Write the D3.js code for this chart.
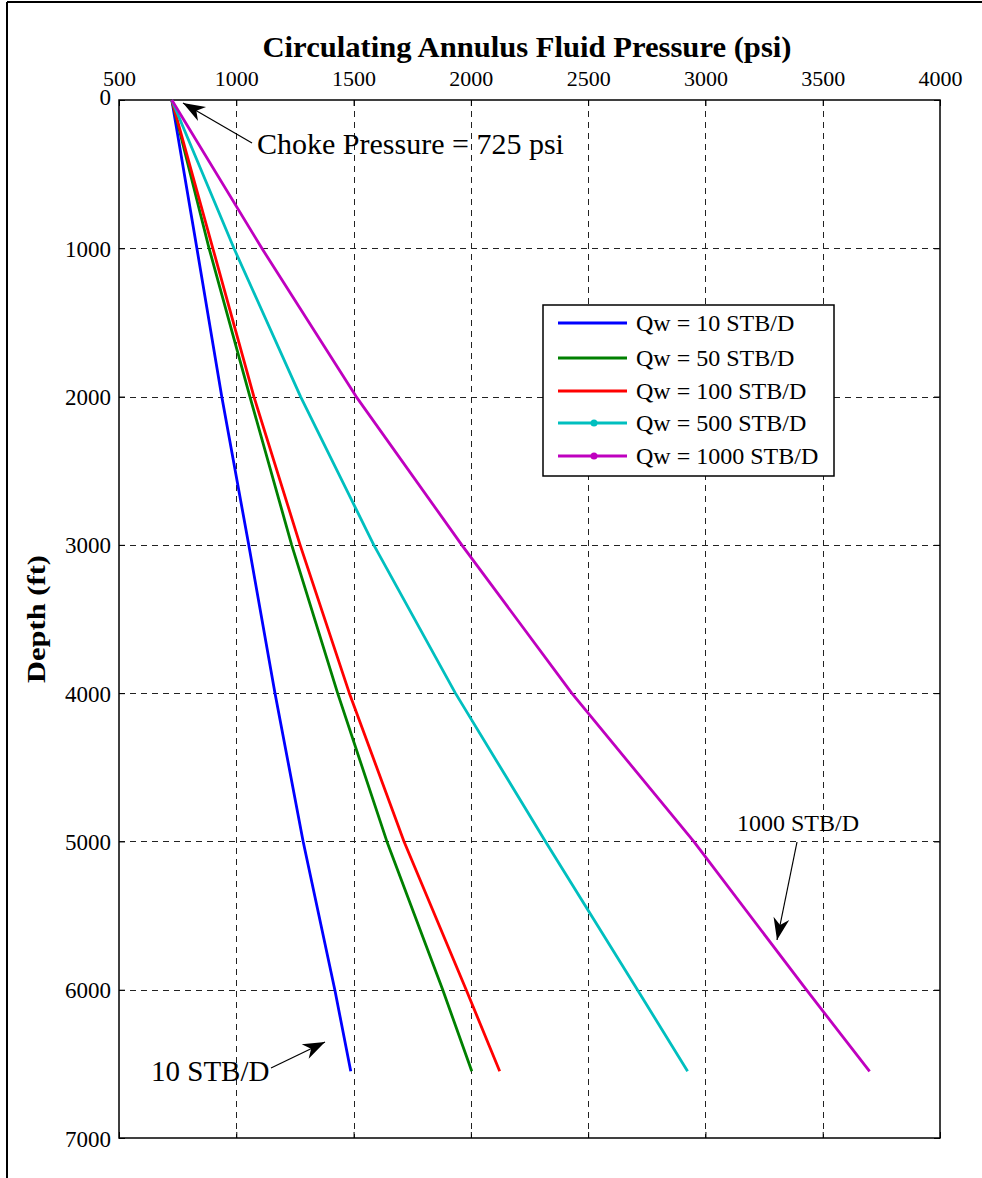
<!DOCTYPE html>
<html><head><meta charset="utf-8">
<script src="https://cdn.jsdelivr.net/npm/d3@7"></script>
<style>body{margin:0;background:#fff}svg{display:block}text{font-family:"Liberation Serif","Times New Roman",serif}</style>
</head><body>
<script>
const depths = [0, 1000, 2000, 3000, 4000, 5000, 6000, 6550];
const qw10   = [725, 832, 938, 1053, 1165, 1285, 1420, 1488];
const qw50   = [725, 884, 1058, 1236, 1432, 1642, 1880, 2004];
const qw100  = [725, 900, 1075, 1272, 1482, 1715, 1980, 2123];
const qw500  = [725, 990, 1274, 1586, 1934, 2318, 2710, 2924];
const qw1000 = [725, 1109, 1511, 1961, 2430, 2950, 3430, 3700];
const seriesNames = ["Qw = 10 STB/D", "Qw = 50 STB/D", "Qw = 100 STB/D", "Qw = 500 STB/D", "Qw = 1000 STB/D"];
const seriesColors = ["#0000ff", "#008000", "#ff0000", "#00bfbf", "#bf00bf"];
const seriesMarkers = [false, false, false, true, true];
const xTicks = [500, 1000, 1500, 2000, 2500, 3000, 3500, 4000];
const yTicks = [0, 1000, 2000, 3000, 4000, 5000, 6000, 7000];

const W = 982, H = 1178;
const PL = 119, PR = 940, PT = 100, PB = 1138;
const svg = d3.select("body").append("svg").attr("width", W).attr("height", H);

// outer frame (left and top)
svg.append("line").attr("x1", 7).attr("x2", 7).attr("y1", 2).attr("y2", H).attr("stroke", "#000").attr("stroke-width", 2);
svg.append("line").attr("x1", 7).attr("x2", W).attr("y1", 2).attr("y2", 2).attr("stroke", "#000").attr("stroke-width", 2);

const x = d3.scaleLinear().domain([500, 4000]).range([PL, PR]);
const y = d3.scaleLinear().domain([0, 7000]).range([PT, PB]);

// grid
const grid = svg.append("g").attr("stroke", "#222").attr("stroke-width", 1).attr("stroke-dasharray", "6,5");
grid.selectAll(".gx").data(xTicks.slice(1, -1)).join("line")
  .attr("x1", d => Math.round(x(d)) + 0.5).attr("x2", d => Math.round(x(d)) + 0.5).attr("y1", PT).attr("y2", PB);
grid.selectAll(".gy").data(yTicks.slice(1, -1)).join("line")
  .attr("y1", d => Math.round(y(d)) + 0.5).attr("y2", d => Math.round(y(d)) + 0.5).attr("x1", PL).attr("x2", PR);

// axes
const fmt = d3.format("d");
const axTop = svg.append("g").attr("transform", `translate(0,${PT})`)
  .call(d3.axisTop(x).tickValues(xTicks).tickFormat(fmt).tickSize(-6).tickPadding(14));
const axBot = svg.append("g").attr("transform", `translate(0,${PB})`)
  .call(d3.axisBottom(x).tickValues(xTicks).tickFormat("").tickSize(-6));
const axLeft = svg.append("g").attr("transform", `translate(${PL},0)`)
  .call(d3.axisLeft(y).tickValues(yTicks).tickFormat(fmt).tickSize(-6).tickPadding(8));
const axRight = svg.append("g").attr("transform", `translate(${PR},0)`)
  .call(d3.axisRight(y).tickValues(yTicks).tickFormat("").tickSize(-6));
[axTop, axBot, axLeft, axRight].forEach(g => {
  g.select(".domain").remove();
  g.selectAll("line").attr("stroke", "#000").attr("stroke-width", 1);
});
axTop.selectAll("text").attr("font-size", 22).attr("fill", "#000").attr("font-family", "Liberation Serif");
axLeft.selectAll("text").attr("font-size", 23).attr("fill", "#000").attr("font-family", "Liberation Serif").attr("dy", "0.35em");
axLeft.selectAll(".tick").filter(d => d === 0).select("text").attr("dy", "0.2em");

// plot box
svg.append("rect").attr("x", PL).attr("y", PT).attr("width", PR - PL).attr("height", PB - PT)
  .attr("fill", "none").attr("stroke", "#000").attr("stroke-width", 1.5);

// lines
const allSeries = [qw10, qw50, qw100, qw500, qw1000];
const line = d3.line().x(d => x(d[0])).y(d => y(d[1]));
allSeries.forEach((vals, i) => {
  svg.append("path").datum(vals.map((v, j) => [v, depths[j]]))
    .attr("d", line).attr("fill", "none").attr("stroke", seriesColors[i])
    .attr("stroke-width", 2.8).attr("stroke-linejoin", "round");
});

// title & labels
svg.append("text").attr("x", 527).attr("y", 57).attr("text-anchor", "middle")
  .attr("font-size", 29).attr("font-weight", "bold")
  .attr("textLength", 529).attr("lengthAdjust", "spacingAndGlyphs")
  .text("Circulating Annulus Fluid Pressure (psi)");
svg.append("text").attr("transform", "translate(45,619) rotate(-90)").attr("text-anchor", "middle")
  .attr("font-size", 25).attr("font-weight", "bold")
  .attr("textLength", 128).attr("lengthAdjust", "spacingAndGlyphs")
  .text("Depth (ft)");

// legend
const lg = svg.append("g");
lg.append("rect").attr("x", 543).attr("y", 305).attr("width", 291).attr("height", 171)
  .attr("fill", "#fff").attr("stroke", "#000").attr("stroke-width", 1.5);
const rowY = [323, 358, 391, 423, 456];
seriesNames.forEach((nm, i) => {
  lg.append("line").attr("x1", 558).attr("x2", 627).attr("y1", rowY[i]).attr("y2", rowY[i])
    .attr("stroke", seriesColors[i]).attr("stroke-width", 2.8);
  if (seriesMarkers[i]) lg.append("circle").attr("cx", 594).attr("cy", rowY[i]).attr("r", 3.5).attr("fill", seriesColors[i]);
  lg.append("text").attr("x", 636).attr("y", rowY[i]).attr("dy", "0.34em").attr("font-size", 24).text(nm);
});

// annotations
function arrow(x1, y1, x2, y2, len, wid) {
  svg.append("line").attr("x1", x1).attr("y1", y1).attr("x2", x2).attr("y2", y2)
    .attr("stroke", "#000").attr("stroke-width", 1.2);
  const a = Math.atan2(y2 - y1, x2 - x1);
  const ux = Math.cos(a), uy = Math.sin(a), px = -uy, py = ux;
  const bx = x2 - ux * len, by = y2 - uy * len;
  const nx = x2 - ux * len * 0.7, ny = y2 - uy * len * 0.7;
  const pts = [[x2, y2], [bx + px * wid / 2, by + py * wid / 2], [nx, ny], [bx - px * wid / 2, by - py * wid / 2]];
  svg.append("polygon").attr("points", pts.map(p => p.join(",")).join(" ")).attr("fill", "#000");
}
svg.append("text").attr("x", 257).attr("y", 154).attr("font-size", 30).text("Choke Pressure = 725 psi");
arrow(252, 143, 183, 103, 22, 16);
svg.append("text").attr("x", 151).attr("y", 1081).attr("font-size", 29).text("10 STB/D");
arrow(271, 1068, 325, 1042, 22, 16);
svg.append("text").attr("x", 737).attr("y", 831).attr("font-size", 24).text("1000 STB/D");
arrow(797, 842, 777, 940, 22, 16);
</script>
</body></html>
